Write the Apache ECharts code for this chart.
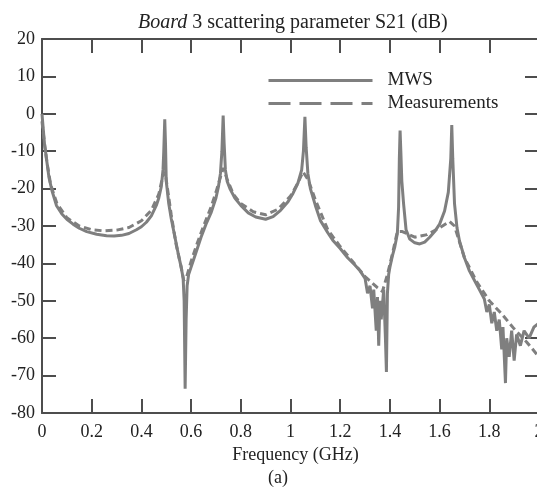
<!DOCTYPE html>
<html>
<head>
<meta charset="utf-8">
<script src="https://cdn.jsdelivr.net/npm/echarts@6/dist/echarts.min.js"></script>
<style>
  html, body { margin: 0; padding: 0; background: #fff; }
  #chart { width: 537px; height: 488px; }
</style>
</head>
<body>
<div id="chart"></div>
<script>
// Frequency (GHz) / S21 (dB)
const freqMws = [
  0.000, 0.005, 0.010, 0.018, 0.028, 0.040, 0.058, 0.080, 0.100, 0.125,
  0.150, 0.180, 0.220, 0.260, 0.290, 0.320, 0.350, 0.380, 0.400, 0.420,
  0.440, 0.460, 0.470, 0.480, 0.487, 0.490, 0.494, 0.497, 0.500, 0.510,
  0.520, 0.535, 0.550, 0.560, 0.568, 0.572, 0.576, 0.580, 0.584, 0.590,
  0.600, 0.620, 0.640, 0.660, 0.680, 0.700, 0.710, 0.718, 0.724, 0.729,
  0.733, 0.738, 0.745, 0.756, 0.776, 0.800, 0.830, 0.860, 0.900, 0.930,
  0.960, 0.990, 1.010, 1.030, 1.045, 1.052, 1.058, 1.063, 1.070, 1.080,
  1.100, 1.120, 1.150, 1.170, 1.200, 1.230, 1.260, 1.280, 1.300, 1.310,
  1.320, 1.330, 1.335, 1.345, 1.350, 1.355, 1.360, 1.365, 1.375, 1.382,
  1.386, 1.390, 1.395, 1.400, 1.410, 1.420, 1.430, 1.435, 1.438, 1.441,
  1.444, 1.448, 1.455, 1.465, 1.480, 1.500, 1.520, 1.540, 1.560, 1.580,
  1.600, 1.620, 1.635, 1.645, 1.649, 1.653, 1.660, 1.670, 1.680, 1.700,
  1.720, 1.740, 1.760, 1.780, 1.790, 1.800, 1.810, 1.820, 1.830, 1.840,
  1.850, 1.855, 1.865, 1.870, 1.880, 1.890, 1.900, 1.910, 1.925, 1.940,
  1.960, 1.980, 2.000
];
const s21Mws = [
  0, -4, -8, -12, -17, -20.5, -24.5, -26.8, -28.2, -29.5,
  -30.6, -31.5, -32.2, -32.6, -32.7, -32.5, -32.0, -31.0, -30.2, -29.0,
  -27.3, -24.5, -22.5, -19.5, -15, -10, -1.5, -8, -18, -24,
  -28, -33, -38, -41, -44, -50, -73.5, -55, -46, -43,
  -41, -37, -33, -29.5, -26.5, -22.5, -19.5, -16, -10, -0.5,
  -8, -15, -18, -20, -22.5, -24.5, -26.5, -27.6, -28.2, -27.5,
  -25.8, -23.5, -21.3, -18.5, -15, -10, -0.8, -9, -16, -20,
  -24.5, -28.5, -31.8, -33.8, -36, -38.5, -40.5, -42, -44, -48,
  -46, -52, -47, -58, -49, -62, -50, -55, -47, -60,
  -69, -48, -43, -41, -38, -35.5, -32, -25, -12, -4.5,
  -10, -18, -24, -31, -33.5, -34.5, -34.8, -34.3, -33, -31.5,
  -29.5, -26, -21, -12, -3, -12, -24, -30.5, -34, -38.5,
  -42, -44.5, -47, -49.5, -53, -51, -56, -53, -58, -55,
  -63, -57, -72, -60, -65, -58, -66, -59, -62, -58,
  -60, -57, -56
];

const freqMeas = [
  0.000, 0.010, 0.020, 0.035, 0.060, 0.100, 0.150, 0.200, 0.250, 0.300,
  0.350, 0.400, 0.440, 0.470, 0.485, 0.495, 0.505, 0.520, 0.540, 0.560,
  0.570, 0.580, 0.600, 0.620, 0.650, 0.680, 0.700, 0.720, 0.730, 0.745,
  0.770, 0.800, 0.850, 0.900, 0.950, 1.000, 1.030, 1.050, 1.070, 1.100,
  1.150, 1.200, 1.250, 1.300, 1.350, 1.370, 1.390, 1.410, 1.430, 1.450,
  1.500, 1.550, 1.600, 1.640, 1.660, 1.700, 1.750, 1.800, 1.850, 1.900,
  1.950, 2.000
];
const s21Meas = [
  -2, -8, -13, -19, -24, -27.8, -30, -31, -31.3, -31.1,
  -30.4, -28.6, -25.8, -21.5, -17, -15.5, -20, -27, -35, -41,
  -44.5, -44, -39.5, -35.5, -30, -25, -21, -16.5, -14.5, -17.5,
  -21.5, -24, -26.2, -27, -25.5, -22, -18.5, -15.5, -17.5, -23,
  -31, -35.5, -39.5, -43.5, -46.5, -47.5, -43, -37.5, -31.5, -31.5,
  -33, -32.3, -30.5, -28.8, -30, -38.5, -45, -50, -53.5, -57.5,
  -61, -65
];

const seriesNames = ['MWS', 'Measurements'];
const xTicks = { min: 0, max: 2, step: 0.2 };
const yTicks = { min: -80, max: 20, step: 10 };

const mwsData = freqMws.map((f, i) => [f, s21Mws[i]]);
const measData = freqMeas.map((f, i) => [f, s21Meas[i]]);

const font = 'Liberation Serif';
const axisColor = '#4d4d4d';
const curveColor = '#7f7f7f';

const chart = echarts.init(document.getElementById('chart'));

const option = {
  backgroundColor: '#fff',
  animation: false,
  title: {
    text: '{i|Board} 3 scattering parameter S21 (dB)',
    left: 133,
    top: 8,
    textStyle: {
      fontFamily: font,
      fontSize: 20,
      fontWeight: 'normal',
      color: '#222',
      rich: {
        i: { fontFamily: font, fontSize: 20, fontStyle: 'italic', color: '#222' }
      }
    }
  },
  legend: {
    orient: 'vertical',
    left: 262,
    top: 66,
    itemWidth: 104,
    itemHeight: 22,
    itemGap: 4,
    itemStyle: { opacity: 0 },
    lineStyle: { width: 3 },
    data: [
      { name: 'MWS' },
      { name: 'Measurements', lineStyle: { type: [22, 9], width: 3 } }
    ],
    textStyle: { fontFamily: font, fontSize: 19, color: '#222', padding: [0, 0, 0, 10] }
  },
  grid: { left: 42, right: -2, top: 39, bottom: 75, outerBoundsMode: 'none' },
  xAxis: [
    {
      type: 'value',
      min: xTicks.min,
      max: xTicks.max,
      interval: xTicks.step,
      name: 'Frequency (GHz)',
      nameLocation: 'middle',
      nameGap: 30,
      nameTextStyle: { fontFamily: font, fontSize: 18, color: '#222', padding: [0, 0, 0, 10] },
      axisLine: { onZero: false, lineStyle: { color: axisColor, width: 2 } },
      axisTick: { inside: true, length: 14, lineStyle: { color: axisColor, width: 2 } },
      axisLabel: { fontFamily: font, fontSize: 18, color: '#222', margin: 10, showMaxLabel: true },
      splitLine: { show: false }
    },
    {
      type: 'value',
      position: 'top',
      min: xTicks.min,
      max: xTicks.max,
      interval: xTicks.step,
      axisLine: { onZero: false, lineStyle: { color: axisColor, width: 2 } },
      axisTick: { inside: true, length: 14, lineStyle: { color: axisColor, width: 2 } },
      axisLabel: { show: false },
      splitLine: { show: false }
    }
  ],
  yAxis: [
    {
      type: 'value',
      min: yTicks.min,
      max: yTicks.max,
      interval: yTicks.step,
      axisLine: { show: true, onZero: false, lineStyle: { color: axisColor, width: 2 } },
      axisTick: { show: true, inside: true, length: 14, lineStyle: { color: axisColor, width: 2 } },
      axisLabel: { fontFamily: font, fontSize: 18, color: '#222', margin: 7 },
      splitLine: { show: false }
    },
    {
      type: 'value',
      position: 'right',
      min: yTicks.min,
      max: yTicks.max,
      interval: yTicks.step,
      axisLine: { show: true, onZero: false, lineStyle: { color: axisColor, width: 2 } },
      axisTick: { show: true, inside: true, length: 14, lineStyle: { color: axisColor, width: 2 } },
      axisLabel: { show: false },
      splitLine: { show: false }
    }
  ],
  graphic: [
    {
      type: 'text',
      left: 268,
      top: 469,
      style: { text: '(a)', fontFamily: font, fontSize: 18, fill: '#222' }
    }
  ],
  series: [
    {
      name: seriesNames[0],
      type: 'line',
      data: mwsData,
      symbol: 'none',
      lineStyle: { color: curveColor, width: 3 },
      itemStyle: { color: curveColor },
      z: 3
    },
    {
      name: seriesNames[1],
      type: 'line',
      data: measData,
      symbol: 'none',
      lineStyle: { color: curveColor, width: 3, type: [7, 4] },
      itemStyle: { color: curveColor },
      z: 2
    }
  ]
};

chart.setOption(option);
</script>
</body>
</html>
